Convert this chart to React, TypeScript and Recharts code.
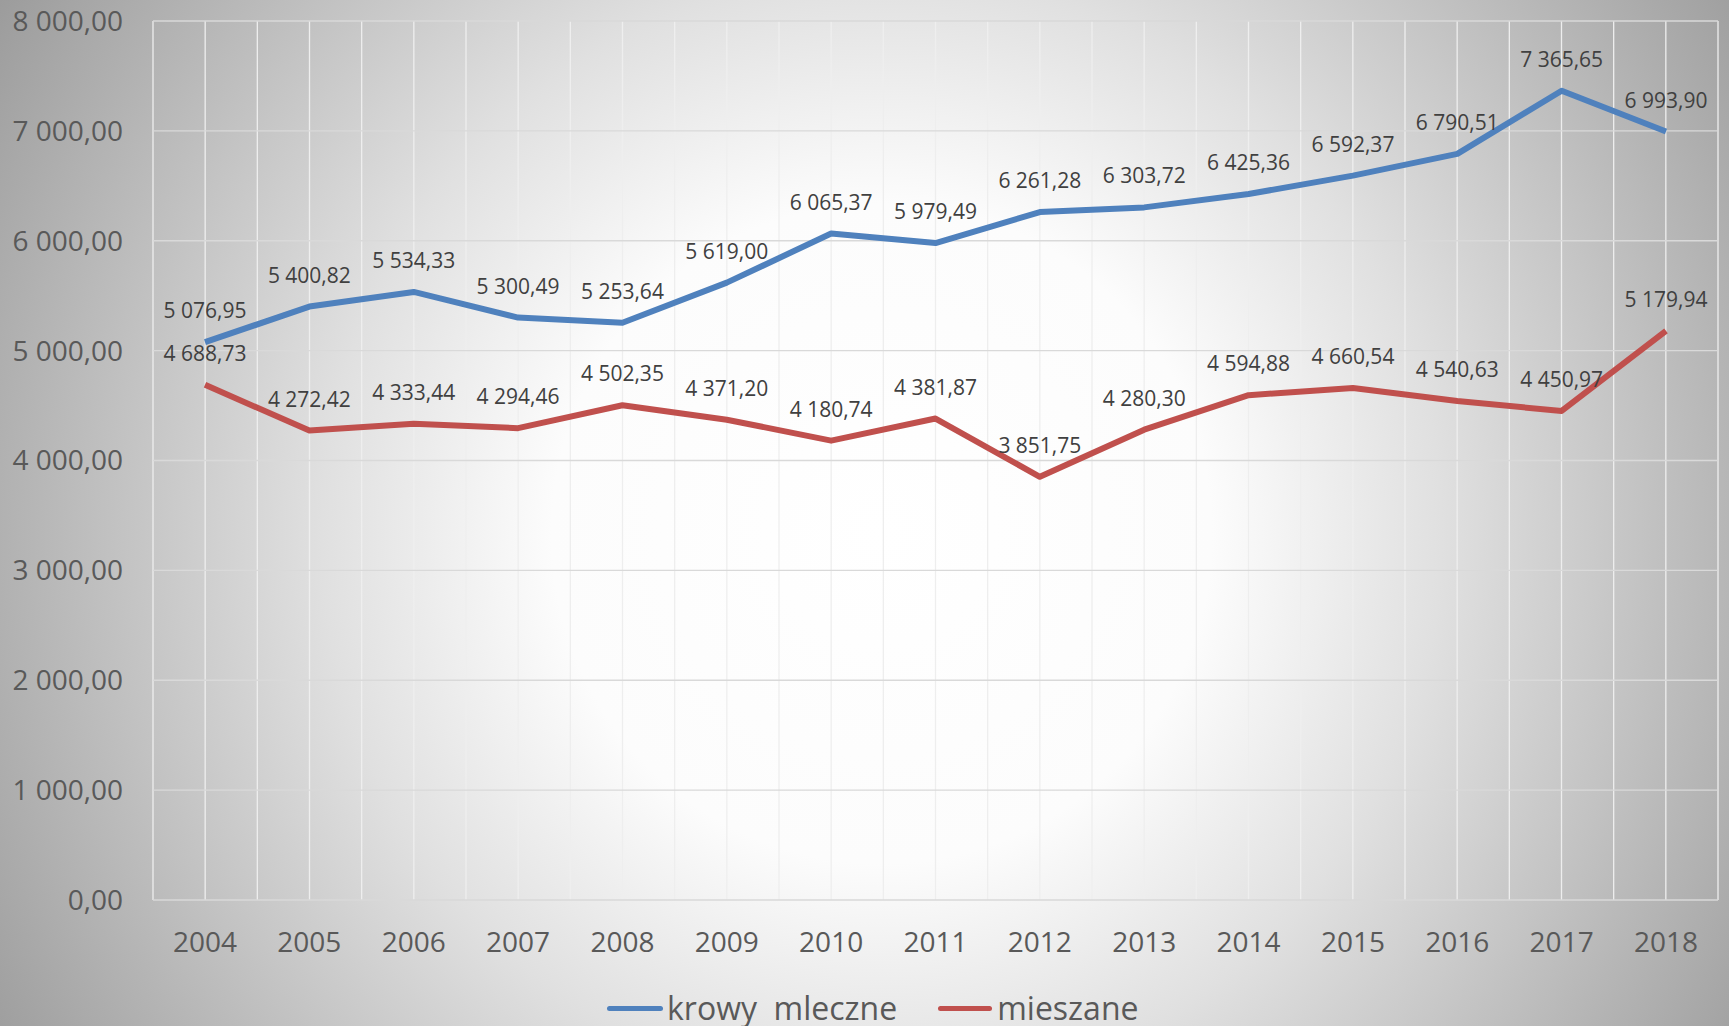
import React from 'react';
import { LineChart, Line, XAxis, YAxis, CartesianGrid, Legend, LabelList } from 'recharts';

const years = ['2004', '2005', '2006', '2007', '2008', '2009', '2010', '2011', '2012', '2013', '2014', '2015', '2016', '2017', '2018'];
const krowyMleczne = [5076.95, 5400.82, 5534.33, 5300.49, 5253.64, 5619.0, 6065.37, 5979.49, 6261.28, 6303.72, 6425.36, 6592.37, 6790.51, 7365.65, 6993.9];
const mieszane = [4688.73, 4272.42, 4333.44, 4294.46, 4502.35, 4371.2, 4180.74, 4381.87, 3851.75, 4280.3, 4594.88, 4660.54, 4540.63, 4450.97, 5179.94];
const yTicks = [0, 1000, 2000, 3000, 4000, 5000, 6000, 7000, 8000];

const BLUE = '#4f81bd';
const RED = '#c0504d';

const data = years.map((year, i) => ({ year, krowy: krowyMleczne[i], mieszane: mieszane[i] }));

const fmt = (v: number) => {
  const [int, dec] = Number(v).toFixed(2).split('.');
  return int.replace(/\B(?=(\d{3})+(?!\d))/g, ' ') + ',' + dec;
};

// vertical grid: one line on each category and one between categories
const halfCategoryLines = ({ offset }: any) => {
  const steps = years.length * 2;
  return Array.from({ length: steps + 1 }, (_, i) => offset.left + (offset.width * i) / steps);
};

const LegendContent = () => (
  <div style={{ height: 36, display: 'flex', alignItems: 'center', paddingLeft: 607, fontSize: 32, color: '#595959', lineHeight: '36px' }}>
    <div style={{ width: 56, height: 5, borderRadius: 3, background: BLUE }} />
    <span style={{ whiteSpace: 'pre', marginLeft: 4 }}>krowy  mleczne</span>
    <div style={{ width: 54, height: 5, borderRadius: 3, background: RED, marginLeft: 41 }} />
    <span style={{ marginLeft: 5 }}>mieszane</span>
  </div>
);

export default function App() {
  return (
    <div
      style={{
        position: 'absolute',
        left: 0,
        top: 0,
        width: 1729,
        height: 1026,
        overflow: 'hidden',
        fontFamily: '"Open Sans", sans-serif',
        background:
          'radial-gradient(circle at 51% 52%, #ffffff 0px, #fcfcfc 330px, #e0e0e0 560px, #bdbdbd 800px, #9c9c9c 1030px)',
      }}
    >
      <LineChart width={1729} height={1026} data={data} margin={{ top: 21, right: 11, bottom: 0, left: 0 }}>
        <CartesianGrid horizontal={false} verticalCoordinatesGenerator={halfCategoryLines} stroke="#eeeeee" strokeWidth={1.3} />
        <CartesianGrid vertical={false} stroke="#d9d9d9" strokeWidth={1.3} />
        <XAxis
          dataKey="year"
          padding={{ left: 52, right: 52 }}
          height={90}
          tickLine={false}
          axisLine={false}
          tickMargin={26}
          tick={{ fill: '#595959', fontSize: 28 }}
          interval={0}
        />
        <YAxis
          width={153}
          domain={[0, 8000]}
          ticks={yTicks}
          tickFormatter={fmt}
          tickLine={false}
          axisLine={false}
          tickMargin={24}
          tick={{ fill: '#595959', fontSize: 28 }}
          interval={0}
        />
        <Legend verticalAlign="bottom" content={LegendContent} wrapperStyle={{ height: 36 }} />
        <Line
          dataKey="krowy"
          name="krowy  mleczne"
          stroke={BLUE}
          strokeWidth={6}
          strokeLinejoin="round"
          dot={false}
          isAnimationActive={false}
        >
          <LabelList dataKey="krowy" position="top" offset={24} formatter={fmt} fill="#404040" fontSize={21} />
        </Line>
        <Line
          dataKey="mieszane"
          name="mieszane"
          stroke={RED}
          strokeWidth={6}
          strokeLinejoin="round"
          dot={false}
          isAnimationActive={false}
        >
          <LabelList dataKey="mieszane" position="top" offset={24} formatter={fmt} fill="#404040" fontSize={21} />
        </Line>
      </LineChart>
    </div>
  );
}
